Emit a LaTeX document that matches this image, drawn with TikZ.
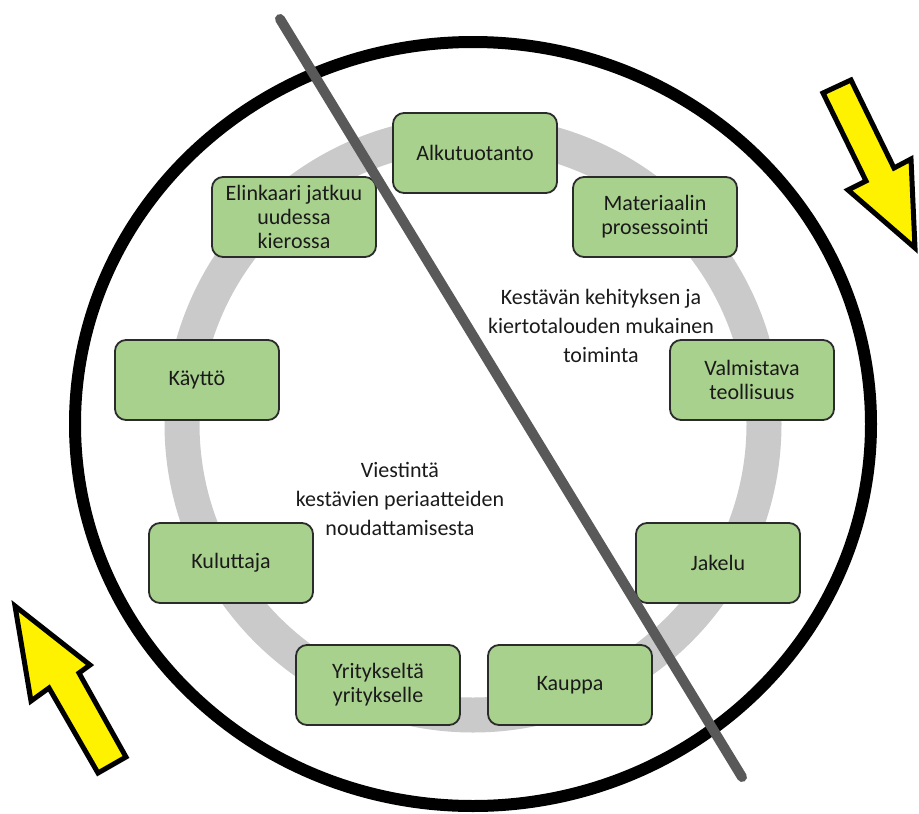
\documentclass[tikz,border=0pt]{standalone}
\usepackage{fontspec}
\setmainfont{Carlito}
\definecolor{boxgreen}{HTML}{A9D18E}
\definecolor{boxline}{HTML}{2B2B2B}
\definecolor{textc}{HTML}{1A1A1A}
\definecolor{ringgray}{HTML}{CACACA}
\definecolor{linegray}{HTML}{595959}
\definecolor{arrowyellow}{HTML}{FFF200}
\begin{document}
\begin{tikzpicture}[x=1pt,y=-1pt,
  stage/.style={draw=boxline, fill=boxgreen, line width=1.8pt, rounded corners=11pt,
    minimum width=164pt, minimum height=80pt, align=center,
    font=\fontsize{22}{24}\selectfont, text=textc, inner sep=2pt},
  note/.style={align=center, font=\fontsize{22}{29}\selectfont, text=textc},
  yarrow/.style={draw=black, fill=arrowyellow, line width=5pt, miter limit=10}]
\useasboundingbox (0,0) rectangle (919,814);
% outer ring
\draw[line width=12pt] (473,424) ellipse [x radius=398, y radius=382];
% gray cycle ring
\draw[ringgray, line width=35pt] (473,424) circle [radius=291];
% stages
\node[stage] (alku) at (475,153) {Alkutuotanto};
\node[stage] (mat) at (655,217) {Materiaalin\\prosessointi};
\node[stage] (valm) at (752,380) {Valmistava\\teollisuus};
\node[stage] (jak) at (718,563) {Jakelu};
\node[stage] (kaup) at (570,685) {Kauppa};
\node[stage] (yrit) at (378,685) {Yritykseltä\\yritykselle};
\node[stage] (kulu) at (231,563) {Kuluttaja};
\node[stage] (kaytto) at (197,380) {Käyttö};
\node[stage] (elin) at (294,217) {Elinkaari jatkuu\\uudessa\\kierossa};
% texts
\node[note] (kest) at (601,326) {Kestävän kehityksen ja\\kiertotalouden mukainen\\toiminta};
\node[note] (viest) at (400,499) {Viestintä\\kestävien periaatteiden\\noudattamisesta};
% dividing line
\coordinate (ltop) at (280,19);
\coordinate (lbot) at (742,777);
\draw[linegray, line width=10pt, line cap=round] (ltop) -- (lbot);
% yellow arrows
\draw[yarrow] (823,93) -- (851,80) -- (894,168) -- (911,159) -- (915,248) -- (848,190) -- (866,181) -- cycle;
\draw[yarrow] (15,606) -- (90,665) -- (79,673) -- (126,757) -- (98,773) -- (49,688) -- (31,701) -- cycle;
\end{tikzpicture}
\end{document}
